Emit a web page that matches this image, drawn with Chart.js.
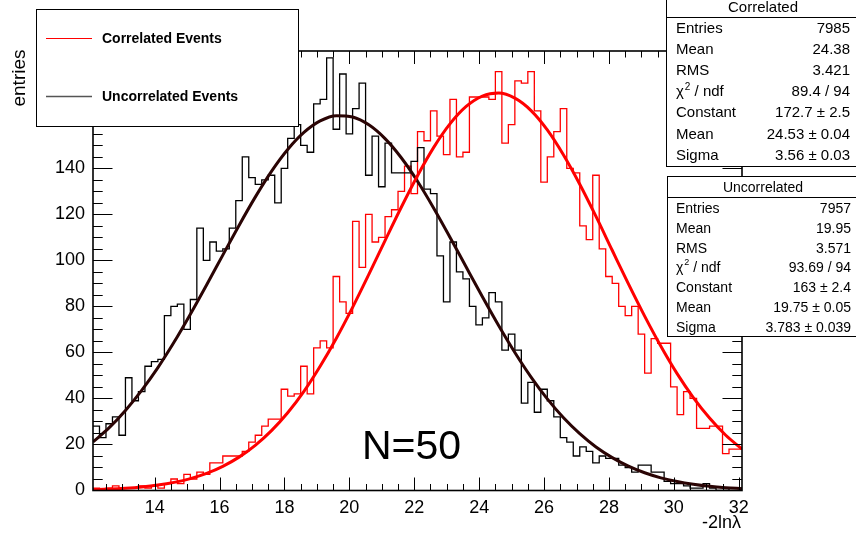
<!DOCTYPE html>
<html>
<head>
<meta charset="utf-8">
<script src="https://cdn.jsdelivr.net/npm/chart.js@4.4.1/dist/chart.umd.min.js"></script>
<style>
  body { margin: 0; background: #fff; }
  canvas { display: block; }
</style>
</head>
<body>
<canvas id="grafico" width="856" height="536"></canvas>
<script>
// Binning do histograma: 100 bins de 0.2 entre 12.1 e 32.1
const xMin = 12.1;
const larguraBin = 0.2;

// Conteúdo dos bins
const correlated = [
  0, 1, 0, 1, 2, 1, 1, 1, 2, 1,
  2, 1, 3, 5, 3, 7, 5, 8, 7, 12,
  12, 15, 15, 15, 17, 21, 24, 28, 31, 31,
  44, 41, 42, 54, 42, 62, 65, 62, 93, 82,
  77, 117, 97, 120, 108, 110, 119, 122, 130, 141,
  129, 156, 152, 165, 154, 146, 170, 145, 147, 171,
  171, 171, 170, 182, 151, 159, 178, 177, 182, 165,
  134, 145, 156, 166, 140, 138, 115, 109, 137, 105,
  93, 90, 80, 76, 80, 68, 51, 66, 64, 64,
  45, 33, 43, 40, 27, 27, 28, 28, 16, 18
];
const uncorrelated = [
  28, 28, 23, 29, 32, 24, 49, 39, 43, 54,
  56, 57, 76, 80, 81, 70, 83, 114, 100, 108,
  104, 105, 114, 126, 145, 136, 133, 135, 137, 125,
  140, 153, 159, 150, 147, 168, 170, 188, 157, 181,
  155, 166, 177, 137, 154, 132, 151, 138, 138, 138,
  143, 149, 131, 129, 102, 82, 108, 95, 92, 80,
  72, 75, 86, 82, 61, 68, 61, 38, 47, 34,
  44, 39, 32, 23, 21, 15, 19, 17, 12, 15,
  14, 14, 11, 10, 8, 11, 11, 8, 8, 4,
  3, 3, 2, 1, 1, 3, 1, 0, 0, 1
];

// Curvas de ajuste, amostradas a cada 0.5
const fitX = [
  12.1, 12.6, 13.1, 13.6, 14.1, 14.6, 15.1, 15.6, 16.1, 16.6,
  17.1, 17.6, 18.1, 18.6, 19.1, 19.6, 20.1, 20.6, 21.1, 21.6,
  22.1, 22.6, 23.1, 23.6, 24.1, 24.6, 25.1, 25.6, 26.1, 26.6,
  27.1, 27.6, 28.1, 28.6, 29.1, 29.6, 30.1, 30.6, 31.1, 31.6, 32.1
];
const fitCorrelated = [
  0.39, 0.63, 1.0, 1.55, 2.36, 3.53, 5.17, 7.43, 10.5, 14.5,
  19.6, 26.0, 33.8, 43.1, 54.0, 66.2, 79.6, 93.9, 108.6, 123.1,
  136.8, 149.1, 159.3, 166.9, 171.4, 172.7, 170.5, 165.1, 156.7, 145.8,
  133.1, 119.1, 104.4, 89.8, 75.8, 62.7, 50.8, 40.4, 31.5, 24.0, 18.0
];
const fitUncorrelated = [
  21.1, 27.3, 34.8, 43.5, 53.4, 64.5, 76.6, 89.3, 102.3, 115.2,
  127.5, 138.7, 148.2, 155.6, 160.6, 162.9, 162.3, 158.9, 152.9, 144.6,
  134.4, 122.7, 110.1, 97.1, 84.2, 71.7, 60.0, 49.3, 39.8, 31.6,
  24.7, 18.9, 14.3, 10.6, 7.7, 5.5, 3.9, 2.7, 1.8, 1.2, 0.8
];

// Marcas dos eixos
const xTicks = [14, 16, 18, 20, 22, 24, 26, 28, 30, 32];
const yTicks = [0, 20, 40, 60, 80, 100, 120, 140, 160, 180];

// Caixas de estatística
const statLabels = ['Entries', 'Mean', 'RMS', 'chi2', 'Constant', 'Mean', 'Sigma'];
const statsCorrelated = ['7985', '24.38', '3.421', '89.4 / 94', '172.7 ± 2.5', '24.53 ± 0.04', '3.56 ± 0.03'];
const statsUncorrelated = ['7957', '19.95', '3.571', '93.69 / 94', '163 ± 2.4', '19.75 ± 0.05', '3.783 ± 0.039'];

const fonte = '"Liberation Sans", Arial, Helvetica, sans-serif';

// pontos do histograma em degraus (borda esquerda de cada bin + borda final)
function pontosHist(valores) {
  const pts = valores.map((v, i) => ({ x: xMin + i * larguraBin, y: v }));
  pts.push({ x: xMin + valores.length * larguraBin, y: valores[valores.length - 1] });
  return pts;
}

function desenhaCaixa(ctx, caixa, titulo, valores) {
  ctx.fillStyle = '#fff';
  ctx.fillRect(caixa.x, caixa.y, caixa.w, caixa.h);
  ctx.strokeStyle = '#000';
  ctx.lineWidth = 1;
  ctx.strokeRect(caixa.x + 0.5, caixa.y + 0.5, caixa.w, caixa.h);
  ctx.beginPath();
  ctx.moveTo(caixa.x, caixa.sep + 0.5);
  ctx.lineTo(caixa.x + caixa.w, caixa.sep + 0.5);
  ctx.stroke();
  ctx.fillStyle = '#000';
  ctx.font = caixa.fs + 'px ' + fonte;
  ctx.textBaseline = 'middle';
  ctx.textAlign = 'center';
  ctx.fillText(titulo, caixa.tx, caixa.ty);
  statLabels.forEach((lab, i) => {
    const yy = caixa.rows[i];
    ctx.textAlign = 'left';
    if (lab === 'chi2') {
      ctx.font = caixa.fs + 'px ' + fonte;
      ctx.fillText('χ', caixa.lx, yy);
      const w = ctx.measureText('χ').width;
      ctx.font = Math.round(caixa.fs * 0.65) + 'px ' + fonte;
      ctx.fillText('2', caixa.lx + w + 1, yy - 5);
      const w2 = ctx.measureText('2').width;
      ctx.font = caixa.fs + 'px ' + fonte;
      ctx.fillText(' / ndf', caixa.lx + w + w2 + 1, yy);
    } else {
      ctx.font = caixa.fs + 'px ' + fonte;
      ctx.fillText(lab, caixa.lx, yy);
    }
    ctx.textAlign = 'right';
    ctx.fillText(valores[i], caixa.vx, yy);
  });
}

const moldura = {
  id: 'moldura',
  afterDatasetsDraw(chart) {
    const { ctx, chartArea: a, scales: { x, y } } = chart;
    ctx.save();
    ctx.strokeStyle = '#000';
    ctx.lineWidth = 1;
    ctx.beginPath();
    for (let k = 0; k <= 40; k++) {
      const v = 12 + k * 0.5;
      if (v < x.min || v > x.max) continue;
      const px = Math.round(x.getPixelForValue(v)) + 0.5;
      const len = (k % 4 === 0) ? 13 : 6.5;
      ctx.moveTo(px, a.bottom); ctx.lineTo(px, a.bottom - len);
      ctx.moveTo(px, a.top); ctx.lineTo(px, a.top + len);
    }
    for (let v = 5; v < y.max; v += 5) {
      const py = Math.round(y.getPixelForValue(v)) + 0.5;
      const len = (v % 20 === 0) ? 19.5 : 9.7;
      ctx.moveTo(a.left, py); ctx.lineTo(a.left + len, py);
      ctx.moveTo(a.right, py); ctx.lineTo(a.right - len, py);
    }
    ctx.stroke();
    ctx.lineWidth = 1.6;
    ctx.strokeRect(a.left, a.top, a.right - a.left, a.bottom - a.top);
    ctx.restore();
  },
  afterDraw(chart) {
    const { ctx } = chart;
    ctx.save();
    // títulos dos eixos
    ctx.fillStyle = '#000';
    ctx.font = '18px ' + fonte;
    ctx.textAlign = 'right';
    ctx.textBaseline = 'middle';
    ctx.fillText('-2lnλ', 741, 523);
    ctx.save();
    ctx.translate(20, 78);
    ctx.rotate(-Math.PI / 2);
    ctx.textAlign = 'center';
    ctx.font = '19px ' + fonte;
    ctx.fillText('entries', 0, 0);
    ctx.restore();

    // texto N=50
    ctx.font = '41px ' + fonte;
    ctx.textAlign = 'left';
    ctx.fillText('N=50', 362, 448);

    // legenda
    ctx.fillStyle = '#fff';
    ctx.fillRect(36, 9, 262, 117);
    ctx.strokeStyle = '#000';
    ctx.lineWidth = 1;
    ctx.strokeRect(36.5, 9.5, 262, 117);
    ctx.beginPath();
    ctx.strokeStyle = '#ff0000';
    ctx.moveTo(46, 38.5); ctx.lineTo(92, 38.5);
    ctx.stroke();
    ctx.beginPath();
    ctx.strokeStyle = '#555';
    ctx.lineWidth = 1.5;
    ctx.moveTo(46, 96.5); ctx.lineTo(92, 96.5);
    ctx.stroke();
    ctx.fillStyle = '#000';
    ctx.font = 'bold 14px ' + fonte;
    ctx.textAlign = 'left';
    ctx.fillText('Correlated Events', 102, 39);
    ctx.fillText('Uncorrelated Events', 102, 97);

    // caixas de estatística
    desenhaCaixa(ctx, { x: 666, y: -1, w: 200, h: 167, sep: 17, fs: 15, tx: 763, ty: 8,
      lx: 676, vx: 850, rows: [29, 50, 71, 92, 113, 135, 156] }, 'Correlated', statsCorrelated);
    desenhaCaixa(ctx, { x: 667, y: 176, w: 200, h: 160, sep: 197, fs: 14, tx: 763, ty: 188,
      lx: 676, vx: 851, rows: [209, 229, 249, 268, 288, 308, 328] }, 'Uncorrelated', statsUncorrelated);
    ctx.restore();
  }
};

const grafico = new Chart(document.getElementById('grafico').getContext('2d'), {
  type: 'line',
  data: {
    datasets: [
      {
        label: 'ajuste correlated',
        data: fitX.map((x, i) => ({ x: x, y: fitCorrelated[i] })),
        borderColor: '#ff0000',
        borderWidth: 3,
        pointRadius: 0,
        cubicInterpolationMode: 'monotone'
      },
      {
        label: 'ajuste uncorrelated',
        data: fitX.map((x, i) => ({ x: x, y: fitUncorrelated[i] })),
        borderColor: '#2a0404',
        borderWidth: 3,
        pointRadius: 0,
        cubicInterpolationMode: 'monotone'
      },
      {
        label: 'Uncorrelated Events',
        data: pontosHist(uncorrelated),
        borderColor: '#000',
        borderWidth: 1.3,
        pointRadius: 0,
        stepped: 'after'
      },
      {
        label: 'Correlated Events',
        data: pontosHist(correlated),
        borderColor: '#ff0000',
        borderWidth: 1.3,
        pointRadius: 0,
        stepped: 'after'
      }
    ]
  },
  options: {
    responsive: false,
    animation: false,
    devicePixelRatio: 1,
    layout: { padding: { top: 51, right: 114, left: 0, bottom: 0 } },
    scales: {
      x: {
        type: 'linear',
        min: 12.1,
        max: 32.1,
        grid: { display: false, drawTicks: false },
        border: { display: false },
        afterBuildTicks: s => { s.ticks = xTicks.map(v => ({ value: v })); },
        afterFit: s => { s.height = 45.5; },
        ticks: {
          color: '#000',
          padding: 7,
          maxRotation: 0,
          font: { family: fonte, size: 18 }
        }
      },
      y: {
        type: 'linear',
        min: 0,
        max: 191,
        grid: { display: false, drawTicks: false },
        border: { display: false },
        afterBuildTicks: s => { s.ticks = yTicks.map(v => ({ value: v })); },
        afterFit: s => { s.width = 93; },
        ticks: {
          color: '#000',
          padding: 8,
          font: { family: fonte, size: 18 }
        }
      }
    },
    plugins: {
      legend: { display: false },
      tooltip: { enabled: false }
    }
  },
  plugins: [moldura]
});
</script>
</body>
</html>
